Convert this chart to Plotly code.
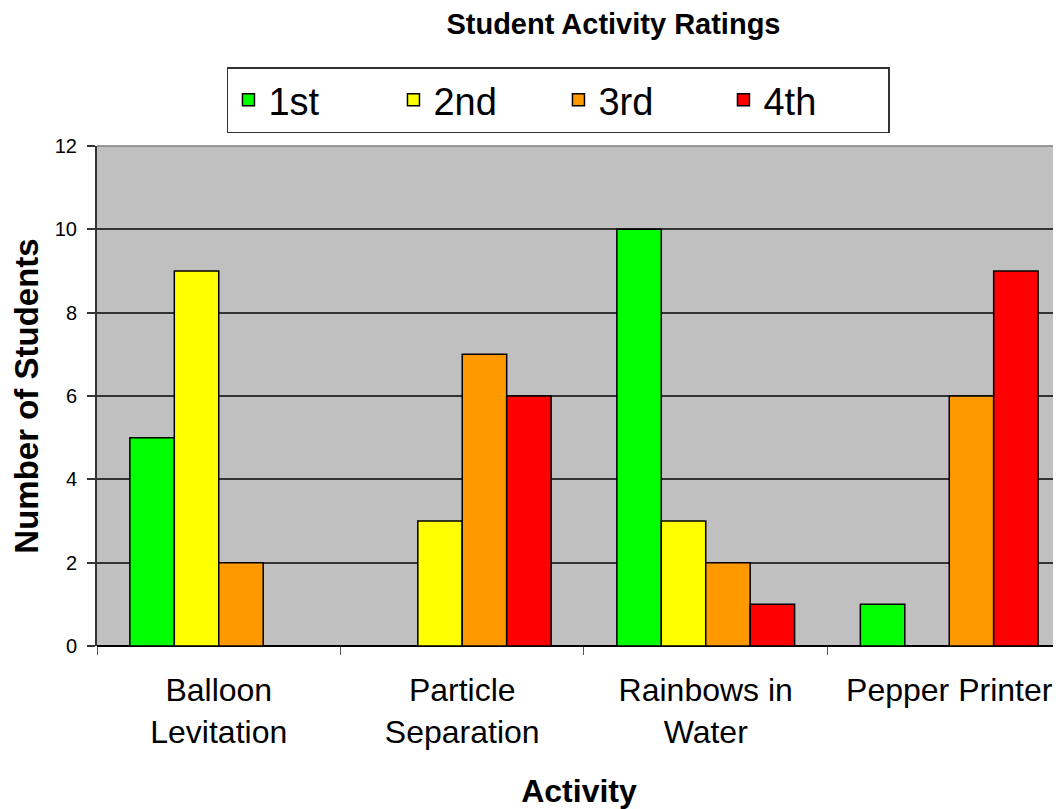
import plotly.graph_objects as go

categories = ["Balloon<br>Levitation", "Particle<br>Separation", "Rainbows in<br>Water", "Pepper Printer"]
series_names = ["1st", "2nd", "3rd", "4th"]
first = [5, 0, 10, 1]
second = [9, 3, 3, 0]
third = [2, 7, 2, 6]
fourth = [0, 6, 1, 9]
colors = ["#00FF00", "#FFFF00", "#FF9900", "#FF0000"]
y_ticks = [0, 2, 4, 6, 8, 10, 12]

FONT = "Liberation Sans, Arial, sans-serif"

fig = go.Figure()
for name, vals, col in zip(series_names, [first, second, third, fourth], colors):
    fig.add_trace(go.Bar(
        x=categories, y=vals, name=name,
        marker=dict(color=col, line=dict(color="#000000", width=1.5)),
    ))

fig.update_layout(
    width=1053, height=801,
    margin=dict(l=89, r=0, t=138, b=163),
    paper_bgcolor="white", plot_bgcolor="#C0C0C0",
    barmode="group", bargap=0.27, bargroupgap=0,
    font=dict(family=FONT, color="black"),
    title=dict(text="<b>Student Activity Ratings</b>", font=dict(size=29, family=FONT),
               x=0.575, xref="container", xanchor="center",
               y=0.980, yref="container", yanchor="middle"),
    legend=dict(orientation="h", x=0.4787, xanchor="center", y=1.092, yanchor="middle",
                font=dict(size=38, family=FONT), bordercolor="#333333", borderwidth=1.5,
                bgcolor="white", itemwidth=30, entrywidth=120, traceorder="normal"),
    xaxis=dict(type="category", range=[-0.5, 3.459], tickson="boundaries",
               ticks="outside", ticklen=8, tickcolor="#555555", tickwidth=1,
               tickfont=dict(size=32, family=FONT), ticklabelstandoff=22,
               showgrid=False, showline=False,
               title=dict(text="<b>Activity</b>", font=dict(size=32, family=FONT), standoff=31)),
    yaxis=dict(range=[0, 12], tickvals=y_ticks, ticks="outside", ticklen=8, tickcolor="#333333",
               tickwidth=1.5, tickfont=dict(size=20, family=FONT), ticklabelstandoff=6,
               showgrid=True, gridcolor="#333333", gridwidth=1.5,
               showline=True, linecolor="#333333", linewidth=2,
               zeroline=True, zerolinecolor="#000000", zerolinewidth=1.5,
               title=dict(text="<b>Number of Students</b>", font=dict(size=33, family=FONT), standoff=8)),
    shapes=[dict(type="line", xref="paper", yref="paper", x0=0, x1=1, y0=1, y1=1,
                 line=dict(color="#808080", width=1.5))],
)

fig.write_html("out.html")
